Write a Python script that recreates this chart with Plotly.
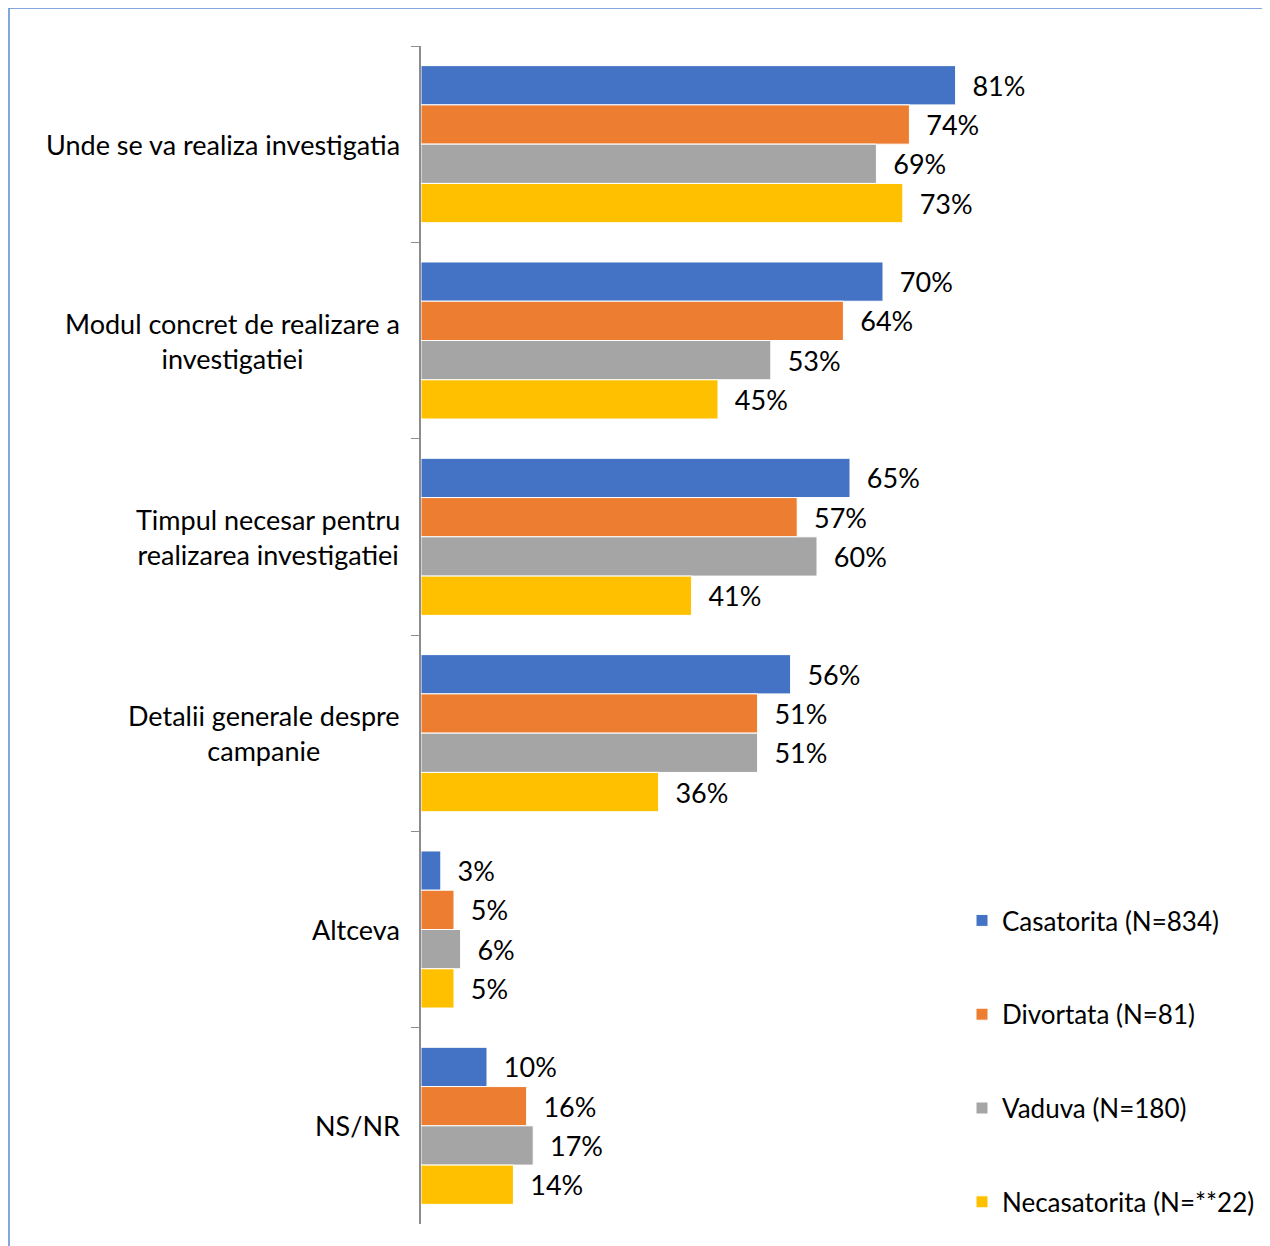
import plotly.graph_objects as go

categories = [
    "Unde se va realiza investigatia",
    "Modul concret de realizare a<br>investigatiei",
    "Timpul necesar pentru<br>realizarea investigatiei",
    "Detalii generale despre<br>campanie",
    "Altceva",
    "NS/NR",
]
series_names = ["Casatorita (N=834)", "Divortata (N=81)", "Vaduva (N=180)", "Necasatorita (N=**22)"]
casatorita = [81, 70, 65, 56, 3, 10]
divortata = [74, 64, 57, 51, 5, 16]
vaduva = [69, 53, 60, 51, 6, 17]
necasatorita = [73, 45, 41, 36, 5, 14]
colors = ["#4472C4", "#ED7D31", "#A5A5A5", "#FFC000"]

FONT = "Lato"
FS = 27

W, H = 1262, 1238
ML, MT, MB = 413, 38, 22
PW = 660
MR = W - ML - PW
PH = H - MT - MB

fig = go.Figure()
for i, (name, vals) in enumerate(zip(series_names, [casatorita, divortata, vaduva, necasatorita])):
    fig.add_trace(go.Bar(
        y=categories, x=vals, name=name, orientation="h",
        marker=dict(color=colors[i], line=dict(color="white", width=1)),
        text=[f"  {v}%" for v in vals], textposition="outside",
        textfont=dict(family=FONT, size=FS, color="black"),
        cliponaxis=False, legendgroup=f"g{i}",
    ))

for c in categories:
    fig.add_annotation(
        x=0, xref="paper", y=c, yref="y", xanchor="right", xshift=-19,
        text=c, showarrow=False, align="center",
        font=dict(family=FONT, size=FS, color="black"),
    )

def px_x(p):
    return (p - ML) / PW

def px_y(p):
    return (H - MB - p) / PH

fig.add_shape(type="rect", xref="paper", yref="paper",
              x0=px_x(1), x1=px_x(1400), y0=px_y(1400), y1=px_y(0),
              line=dict(color="#5B8BD0", width=1.5), fillcolor="rgba(0,0,0,0)", layer="below")

fig.update_layout(
    width=W, height=H,
    margin=dict(l=ML, r=MR, t=MT, b=MB, autoexpand=False),
    paper_bgcolor="white", plot_bgcolor="white",
    barmode="group", bargap=0.2, bargroupgap=0,
    font=dict(family=FONT, size=FS, color="black"),
    showlegend=True,
    legend=dict(x=px_x(954), y=px_y(889), xanchor="left", yanchor="top",
                xref="paper", yref="paper",
                font=dict(family=FONT, size=26, color="black"),
                tracegroupgap=57, itemwidth=30, bgcolor="rgba(0,0,0,0)"),
    xaxis=dict(range=[0, 100], visible=False, showgrid=False, zeroline=False),
    yaxis=dict(autorange="reversed", showticklabels=False, showline=True,
               linecolor="#8C8C8C", linewidth=1.5, ticks="outside", tickson="boundaries",
               ticklen=8, tickcolor="#8C8C8C", showgrid=False),
)

fig.write_html("out.html")
